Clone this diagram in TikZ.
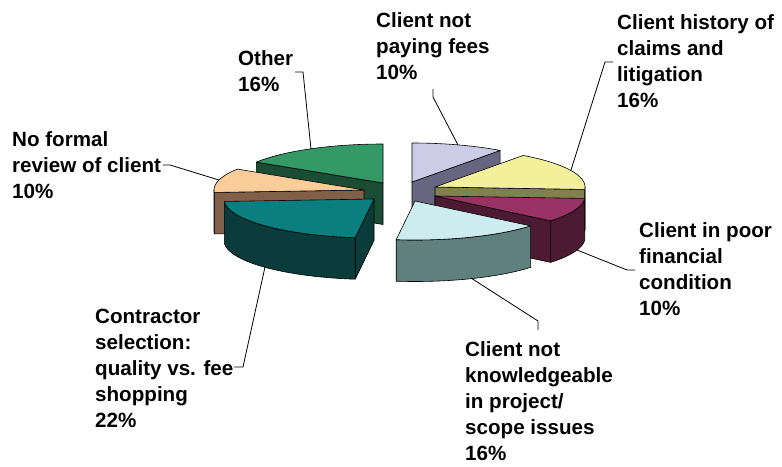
\documentclass[tikz,border=0pt]{standalone}
\usepackage{fontspec}
\setmainfont{Liberation Sans}
\definecolor{lavT}{HTML}{CCCCE6}\definecolor{lavS}{HTML}{666680}
\definecolor{grnT}{HTML}{339966}\definecolor{grnS}{HTML}{1A4D33}
\definecolor{yelT}{HTML}{F2F09B}\definecolor{yelS}{HTML}{808050}
\definecolor{orgT}{HTML}{FACC99}\definecolor{orgS}{HTML}{806048}
\definecolor{marT}{HTML}{993366}\definecolor{marS}{HTML}{4D1A33}
\definecolor{tealT}{HTML}{0B7F7F}\definecolor{tealS}{HTML}{0A3C3C}
\definecolor{cyaT}{HTML}{CCECF0}\definecolor{cyaS}{HTML}{608080}
% #1 Px, #2 Py, #3 a1, #4 a2, #5 colour
\newcommand\pieTop[5]{%
  \filldraw[pe, fill=#5] (#1,#2) -- plot[domain=#3:#4, samples=40] ({#1+150*cos(\x)},{#2-39*sin(\x)}) -- cycle;}
% #1 Px, #2 Py, #3 angle, #4 colour
\newcommand\pieRad[4]{%
  \filldraw[pe, fill=#4] (#1,#2) -- ({#1+150*cos(#3)},{#2-39*sin(#3)}) -- ({#1+150*cos(#3)},{#2-39*sin(#3)+41.5}) -- (#1,#2+41.5) -- cycle;}
% #1 Px, #2 Py, #3 b1, #4 b2, #5 colour
\newcommand\pieOut[5]{%
  \filldraw[pe, fill=#5] plot[domain=#3:#4, samples=40] ({#1+150*cos(\x)},{#2-39*sin(\x)}) -- plot[domain=#4:#3, samples=40] ({#1+150*cos(\x)},{#2-39*sin(\x)+41.5}) -- cycle;}
\begin{document}
\begin{tikzpicture}[x=1pt,y=-1pt,
  pe/.style={draw=black, line width=0.6pt, line join=round},
  lead/.style={draw=black, line width=0.8pt},
  lbl/.style={anchor=north west, inner sep=0pt, align=left, font={\fontsize{20.6}{26}\selectfont\bfseries}}]
\useasboundingbox (0,0) rectangle (782,466);
% lavender: Client not paying fees
\pieRad{412}{182}{54}{lavS}
\pieTop{412}{182}{54}{90}{lavT}
% green: Other
\pieRad{383}{183}{147.6}{grnS}
\pieTop{383}{183}{90}{147.6}{grnT}
% yellow: history
\pieRad{435}{187}{-3.6}{yelS}
\pieOut{435}{187}{-3.6}{0}{yelS}
\pieTop{435}{187}{-3.6}{54}{yelT}
% orange: no formal review
\pieRad{364}{190}{183.6}{orgS}
\pieOut{364}{190}{180}{183.6}{orgS}
\pieTop{364}{190}{147.6}{183.6}{orgT}
% maroon: poor financial
\pieRad{435}{196}{-39.6}{marS}
\pieOut{435}{196}{-39.6}{-3.6}{marS}
\pieTop{435}{196}{-39.6}{-3.6}{marT}
% teal: contractor selection
\pieRad{374}{199}{262.8}{tealS}
\pieOut{374}{199}{183.6}{262.8}{tealS}
\pieTop{374}{199}{183.6}{262.8}{tealT}
% light cyan: not knowledgeable
\pieOut{415}{201}{262.8}{320.4}{cyaS}
\pieTop{415}{201}{262.8}{320.4}{cyaT}
% labels
\node[lbl] (tLav)   at (376,8.8)   {\strut Client not\\paying fees\\10\%};
\node[lbl] (tHist)  at (617,10.8)  {\strut Client history of\\claims and\\litigation\\16\%};
\node[lbl] (tOther) at (238,46.8)  {\strut Other\\16\%};
\node[lbl] (tNoRev) at (12,127.8)  {\strut No formal\\review of client\\10\%};
\node[lbl] (tPoor)  at (639,218.8) {\strut Client in poor\\financial\\condition\\10\%};
\node[lbl] (tCon)   at (95,304.8)  {\strut Contractor\\selection:\\quality vs. fee\\shopping\\22\%};
\node[lbl] (tKnow)  at (465,337.8) {\strut Client not\\knowledgeable\\in project/\\scope issues\\16\%};
% leader anchor points
\coordinate (pLav) at (458,145);   \coordinate (kLav) at (433,89);
\coordinate (pHist) at (571,170);  \coordinate (kHist) at (613,62);
\coordinate (pOther) at (311,149); \coordinate (kOther) at (295,72);
\coordinate (pNoRev) at (219,180); \coordinate (kNoRev) at (163,165);
\coordinate (pPoor) at (577,250);  \coordinate (kPoor) at (635,270);
\coordinate (pCon) at (265,267);   \coordinate (kCon) at (234,367);
\coordinate (pKnow) at (471,278);  \coordinate (kKnow) at (538,330);
\draw[lead] (kLav) -- ++(0,8) -- (pLav);
\draw[lead] (kHist) -- ++(-8,0) -- (pHist);
\draw[lead] (kOther) -- ++(8,0) -- (pOther);
\draw[lead] (kNoRev) -- ++(7,0) -- (pNoRev);
\draw[lead] (kPoor) -- ++(-8,0) -- (pPoor);
\draw[lead] (kCon) -- ++(9,0) -- (pCon);
\draw[lead] (kKnow) -- ++(0,-9) -- (pKnow);
\end{tikzpicture}
\end{document}
